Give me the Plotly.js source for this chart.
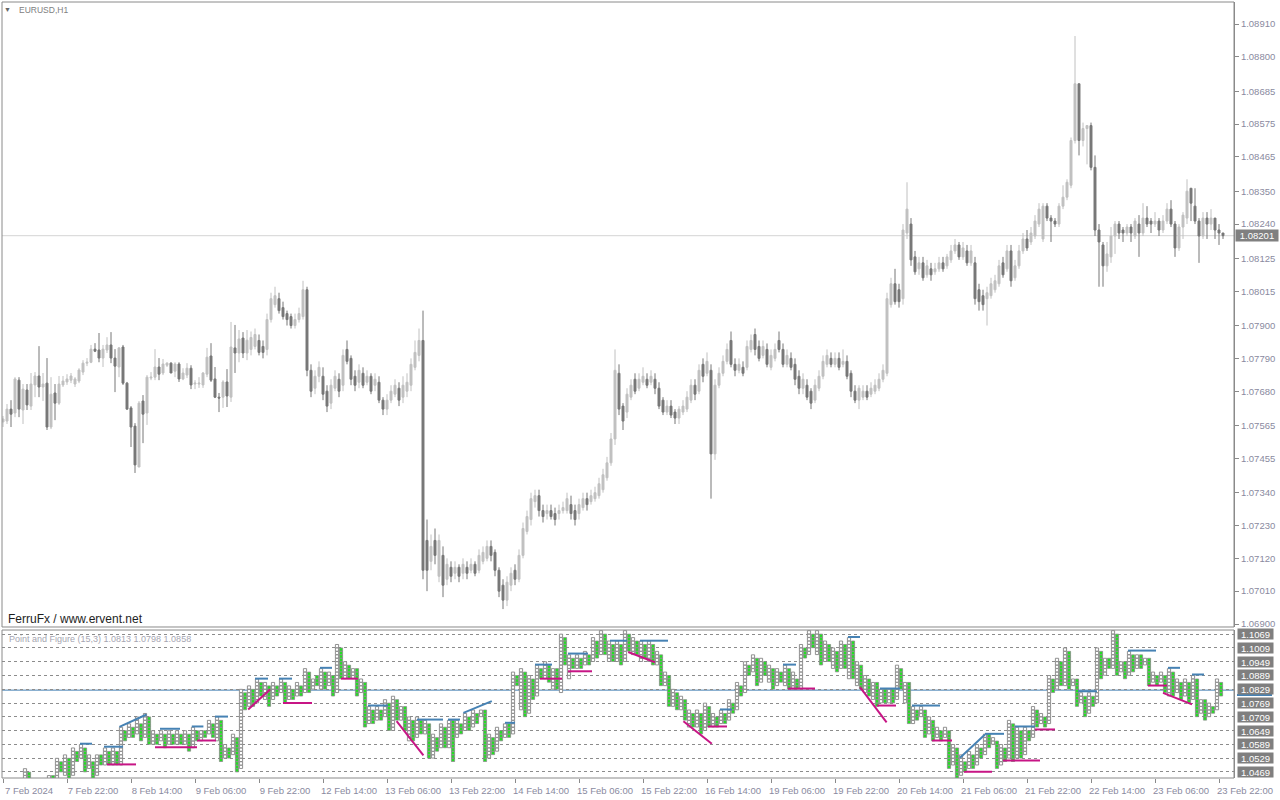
<!DOCTYPE html>
<html>
<head>
<meta charset="utf-8">
<script src="https://cdn.plot.ly/plotly-3.0.1.min.js"></script>
<style>html,body{margin:0;padding:0;background:#fff;}#chart{width:1280px;height:800px;}</style>
</head>
<body>
<div id="chart"></div>
<script>
// ---------- EURUSD H1 candles (bar 0 = 7 Feb 2024 06:00) ----------
const candleOpen = [
1.07577,1.07580,1.07620,1.07607,1.07717,1.07617,1.07684,1.07630,1.07701,1.07731,
1.07694,1.07707,1.07560,1.07674,1.07640,1.07701,1.07711,1.07717,1.07704,1.07714,
1.07744,1.07774,1.07777,1.07821,1.07818,1.07791,1.07818,1.07835,1.07791,1.07761,
1.07828,1.07707,1.07624,1.07563,1.07426,1.07647,1.07607,1.07724,1.07727,1.07761,
1.07741,1.07767,1.07774,1.07747,1.07771,1.07721,1.07734,1.07757,1.07704,1.07704,
1.07701,1.07737,1.07798,1.07721,1.07660,1.07660,1.07711,1.07660,1.07825,1.07808,
1.07858,1.07808,1.0782,1.0783,1.0785,1.0783,1.0782,1.0792,1.0797,1.0799,
1.0796,1.0794,1.0793,1.0790,1.0792,1.0793,1.0802,1.0775,1.0769,1.0773,
1.0773,1.0768,1.0764,1.0769,1.0772,1.0770,1.0782,1.0779,1.0773,1.0771,
1.0774,1.0771,1.0773,1.0770,1.0771,1.0765,1.0762,1.0765,1.0767,1.0769,
1.0766,1.0768,1.0770,1.0776,1.0780,1.0785,1.0718,1.0711,1.0718,1.0706,
1.0713,1.0705,1.0709,1.0707,1.0709,1.0707,1.0709,1.0708,1.0710,1.0708,
1.0711,1.0712,1.0716,1.0714,1.0708,1.0703,1.0698,1.0703,1.0708,1.0705,
1.0713,1.0721,1.0725,1.0731,1.0733,1.0728,1.0727,1.0728,1.0727,1.0727,
1.0728,1.0728,1.0730,1.0728,1.0727,1.0729,1.0732,1.0731,1.0732,1.0733,
1.0735,1.0739,1.0744,1.0752,1.0774,1.0763,1.0761,1.0766,1.0772,1.0769,
1.0771,1.0772,1.0771,1.0772,1.0769,1.0765,1.0761,1.0763,1.0761,1.0759,
1.0761,1.0762,1.0765,1.0770,1.0768,1.0777,1.0774,1.0775,1.0747,1.0770,
1.0774,1.0778,1.0785,1.0777,1.0775,1.0776,1.0776,1.0782,1.0787,1.0783,
1.0780,1.0782,1.0776,1.0779,1.0785,1.0782,1.0777,1.0779,1.0777,1.0773,
1.0769,1.0770,1.0768,1.0765,1.0769,1.0773,1.0777,1.0779,1.0777,1.0779,
1.0777,1.0778,1.0774,1.0768,1.0765,1.0766,1.0768,1.0767,1.0768,1.0769,
1.0772,1.0774,1.0797,1.0804,1.0802,1.0799,1.0821,1.0824,1.0813,1.0809,
1.0811,1.0807,1.0809,1.0808,1.0809,1.0811,1.0810,1.0812,1.0815,1.0817,
1.0813,1.0815,1.0811,1.0811,1.0802,1.0800,1.0799,1.0800,1.0802,1.0804,
1.0811,1.0809,1.0815,1.0806,1.0810,1.0815,1.0819,1.0818,1.0820,1.0824,
1.0819,1.0830,1.0826,1.0825,1.0824,1.0830,1.0833,1.0837,1.0852,1.0871,
1.0852,1.0856,1.0857,1.0843,1.0822,1.0817,1.0810,1.0813,1.0820,1.0824,
1.0822,1.0821,1.0823,1.0820,1.0824,1.0821,1.0826,1.0825,1.0824,1.0825,
1.0822,1.0825,1.0829,1.0824,1.0816,1.0823,1.0826,1.0836,1.0830,1.0825,
1.0820,1.0826,1.0824,1.0826,1.0822,1.0821];
const candleHigh = [
1.07597,1.07637,1.07650,1.07727,1.07727,1.07704,1.07704,1.07741,1.07744,1.07831,
1.07741,1.07791,1.07727,1.07704,1.07731,1.07731,1.07737,1.07741,1.07727,1.07757,
1.07784,1.07791,1.07835,1.07841,1.07875,1.07835,1.07861,1.07878,1.07821,1.07828,
1.07835,1.07711,1.07630,1.07573,1.07647,1.07667,1.07734,1.07744,1.07821,1.07791,
1.07788,1.07777,1.07777,1.07777,1.07777,1.07757,1.07774,1.07767,1.07717,1.07727,
1.07744,1.07825,1.07841,1.07761,1.07674,1.07717,1.07754,1.07912,1.07902,1.07885,
1.07878,1.07885,1.0788,1.0789,1.0787,1.0785,1.0794,1.0801,1.0803,1.0801,
1.0798,1.0795,1.0794,1.0794,1.0796,1.0805,1.0803,1.0777,1.0775,1.0778,
1.0776,1.0770,1.0772,1.0775,1.0774,1.0782,1.0785,1.0780,1.0775,1.0777,
1.0776,1.0775,1.0774,1.0774,1.0773,1.0766,1.0767,1.0770,1.0772,1.0771,
1.0773,1.0774,1.0779,1.0785,1.0789,1.0795,1.0725,1.0720,1.0722,1.0720,
1.0716,1.0712,1.0711,1.0711,1.0710,1.0712,1.0711,1.0712,1.0711,1.0715,
1.0716,1.0718,1.0718,1.0715,1.0709,1.0705,1.0706,1.0709,1.0710,1.0715,
1.0724,1.0728,1.0734,1.0735,1.0735,1.0730,1.0730,1.0730,1.0729,1.0730,
1.0731,1.0734,1.0733,1.0730,1.0732,1.0734,1.0734,1.0735,1.0736,1.0739,
1.0742,1.0746,1.0754,1.0782,1.0777,1.0764,1.0769,1.0772,1.0774,1.0774,
1.0776,1.0774,1.0775,1.0774,1.0771,1.0766,1.0765,1.0765,1.0762,1.0763,
1.0765,1.0768,1.0772,1.0772,1.0777,1.0779,1.0781,1.0777,1.0772,1.0776,
1.0780,1.0784,1.0788,1.0779,1.0779,1.0778,1.0785,1.0787,1.0789,1.0785,
1.0785,1.0784,1.0782,1.0784,1.0788,1.0784,1.0782,1.0781,1.0779,1.0775,
1.0774,1.0772,1.0769,1.0772,1.0775,1.0780,1.0782,1.0781,1.0781,1.0781,
1.0782,1.0780,1.0775,1.0770,1.0770,1.0770,1.0770,1.0771,1.0772,1.0774,
1.0777,1.0801,1.0806,1.0809,1.0804,1.0824,1.0838,1.0826,1.0815,1.0813,
1.0813,1.0812,1.0811,1.0811,1.0813,1.0813,1.0814,1.0817,1.0819,1.0818,
1.0818,1.0817,1.0817,1.0813,1.0804,1.0802,1.0803,1.0806,1.0807,1.0812,
1.0813,1.0817,1.0817,1.0812,1.0817,1.0821,1.0822,1.0823,1.0827,1.0831,
1.0831,1.0831,1.0827,1.0826,1.0831,1.0837,1.0839,1.0853,1.0887,1.0871,
1.0858,1.0857,1.0858,1.0847,1.0824,1.0818,1.0818,1.0823,1.0825,1.0825,
1.0823,1.0824,1.0824,1.0826,1.0827,1.0831,1.0830,1.0826,1.0828,1.0826,
1.0827,1.0831,1.0832,1.0825,1.0824,1.0828,1.0839,1.0836,1.0836,1.0826,
1.0828,1.0828,1.0829,1.0826,1.0824,1.0821];
const candleLow = [
1.07560,1.07570,1.07560,1.07593,1.07593,1.07570,1.07617,1.07617,1.07660,1.07660,
1.07647,1.07550,1.07553,1.07583,1.07634,1.07694,1.07701,1.07707,1.07694,1.07707,
1.07734,1.07764,1.07774,1.07811,1.07777,1.07761,1.07808,1.07774,1.07677,1.07727,
1.07701,1.07617,1.07493,1.07406,1.07426,1.07506,1.07567,1.07717,1.07717,1.07717,
1.07734,1.07761,1.07741,1.07727,1.07711,1.07717,1.07724,1.07687,1.07687,1.07691,
1.07691,1.07727,1.07711,1.07657,1.07610,1.07624,1.07627,1.07644,1.07741,1.07777,
1.07791,1.07784,1.0780,1.0782,1.0780,1.0779,1.0780,1.0791,1.0796,1.0794,
1.0792,1.0790,1.0789,1.0789,1.0791,1.0792,1.0773,1.0766,1.0767,1.0771,
1.0765,1.0761,1.0762,1.0768,1.0766,1.0768,1.0777,1.0770,1.0768,1.0769,
1.0769,1.0770,1.0767,1.0768,1.0764,1.0760,1.0760,1.0764,1.0766,1.0763,
1.0764,1.0766,1.0768,1.0775,1.0778,1.0705,1.0701,1.0708,1.0710,1.0704,
1.0699,1.0703,1.0704,1.0705,1.0704,1.0705,1.0705,1.0707,1.0706,1.0707,
1.0710,1.0711,1.0711,1.0706,1.0699,1.0695,1.0696,1.0701,1.0703,1.0704,
1.0712,1.0720,1.0723,1.0729,1.0726,1.0724,1.0725,1.0725,1.0723,1.0725,
1.0727,1.0727,1.0725,1.0723,1.0725,1.0728,1.0728,1.0730,1.0731,1.0732,
1.0734,1.0738,1.0743,1.0750,1.0760,1.0755,1.0759,1.0765,1.0767,1.0768,
1.0770,1.0769,1.0770,1.0767,1.0762,1.0760,1.0760,1.0759,1.0757,1.0757,
1.0760,1.0761,1.0764,1.0765,1.0767,1.0771,1.0773,1.0732,1.0745,1.0769,
1.0773,1.0777,1.0776,1.0773,1.0774,1.0773,1.0775,1.0781,1.0780,1.0778,
1.0779,1.0776,1.0775,1.0778,1.0781,1.0776,1.0776,1.0775,1.0770,1.0767,
1.0767,1.0765,1.0762,1.0764,1.0768,1.0772,1.0776,1.0776,1.0776,1.0775,
1.0776,1.0772,1.0766,1.0764,1.0762,1.0765,1.0765,1.0766,1.0767,1.0768,
1.0771,1.0773,1.0796,1.0797,1.0796,1.0797,1.0819,1.0810,1.0807,1.0807,
1.0805,1.0806,1.0805,1.0807,1.0808,1.0808,1.0809,1.0811,1.0814,1.0812,
1.0812,1.0810,1.0810,1.0797,1.0795,1.0795,1.0790,1.0799,1.0801,1.0803,
1.0806,1.0808,1.0803,1.0805,1.0809,1.0814,1.0815,1.0817,1.0819,1.0823,
1.0818,1.0825,1.0818,1.0823,1.0823,1.0829,1.0832,1.0836,1.0851,1.0847,
1.0850,1.0844,1.0842,1.0820,1.0803,1.0803,1.0808,1.0811,1.0814,1.0819,
1.0818,1.0820,1.0818,1.0819,1.0813,1.0820,1.0823,1.0821,1.0823,1.0820,
1.0821,1.0824,1.0823,1.0813,1.0815,1.0819,1.0824,1.0825,1.0824,1.0811,
1.0819,1.0819,1.0822,1.0819,1.0817,1.0819];
const candleClose = [
1.07587,1.07620,1.07603,1.07721,1.07620,1.07687,1.07634,1.07704,1.07731,1.07694,
1.07704,1.07560,1.07670,1.07640,1.07704,1.07714,1.07721,1.07731,1.07721,1.07751,
1.07774,1.07777,1.07821,1.07814,1.07791,1.07821,1.07835,1.07791,1.07764,1.07825,
1.07707,1.07620,1.07560,1.07433,1.07640,1.07603,1.07727,1.07727,1.07761,1.07737,
1.07771,1.07774,1.07741,1.07771,1.07721,1.07741,1.07757,1.07701,1.07707,1.07707,
1.07741,1.07794,1.07717,1.07660,1.07657,1.07711,1.07664,1.07828,1.07808,1.07855,
1.07808,1.07851,1.0786,1.0787,1.0781,1.0781,1.0792,1.0799,1.0800,1.0795,
1.0793,1.0792,1.0790,1.0792,1.0794,1.0802,1.0775,1.0768,1.0773,1.0776,
1.0767,1.0763,1.0770,1.0773,1.0768,1.0780,1.0778,1.0772,1.0770,1.0775,
1.0770,1.0773,1.0768,1.0772,1.0765,1.0762,1.0765,1.0768,1.0770,1.0765,
1.0770,1.0771,1.0777,1.0781,1.0785,1.0708,1.0708,1.0716,1.0713,1.0718,
1.0703,1.0710,1.0706,1.0709,1.0706,1.0710,1.0707,1.0710,1.0707,1.0713,
1.0714,1.0716,1.0713,1.0708,1.0701,1.0698,1.0704,1.0707,1.0705,1.0713,
1.0722,1.0726,1.0732,1.0733,1.0728,1.0726,1.0728,1.0726,1.0725,1.0728,
1.0729,1.0732,1.0727,1.0725,1.0730,1.0732,1.0730,1.0733,1.0734,1.0737,
1.0740,1.0744,1.0752,1.0775,1.0762,1.0758,1.0767,1.0770,1.0768,1.0772,
1.0773,1.0770,1.0773,1.0769,1.0763,1.0761,1.0763,1.0760,1.0759,1.0762,
1.0763,1.0766,1.0770,1.0767,1.0775,1.0773,1.0778,1.0747,1.0770,1.0774,
1.0778,1.0782,1.0777,1.0775,1.0777,1.0774,1.0783,1.0785,1.0782,1.0779,
1.0783,1.0777,1.0780,1.0782,1.0782,1.0777,1.0780,1.0776,1.0772,1.0769,
1.0772,1.0766,1.0764,1.0770,1.0773,1.0778,1.0780,1.0777,1.0779,1.0776,
1.0778,1.0773,1.0768,1.0765,1.0769,1.0768,1.0766,1.0769,1.0770,1.0772,
1.0775,1.0799,1.0804,1.0798,1.0798,1.0822,1.0829,1.0812,1.0808,1.0811,
1.0806,1.0810,1.0807,1.0809,1.0811,1.0809,1.0813,1.0815,1.0817,1.0813,
1.0816,1.0811,1.0815,1.0799,1.0798,1.0797,1.0801,1.0804,1.0805,1.0810,
1.0807,1.0815,1.0805,1.0810,1.0815,1.0819,1.0816,1.0821,1.0825,1.0829,
1.0830,1.0826,1.0825,1.0824,1.0830,1.0833,1.0838,1.0852,1.0871,1.0852,
1.0856,1.0857,1.0843,1.0822,1.0818,1.0810,1.0814,1.0820,1.0824,1.0821,
1.0821,1.0823,1.0821,1.0825,1.0821,1.0826,1.0824,1.0824,1.0825,1.0822,
1.0825,1.0829,1.0824,1.0816,1.0823,1.0827,1.0835,1.0831,1.0825,1.0820,
1.0826,1.0824,1.0826,1.0822,1.0821,1.08201];
const lastPrice = 1.08201;

// ---------- time axis ----------
const timeTickBars = [0,16,32,48,64,80,96,112,128,144,160,176,192,208,224,240,256,272,288,304];
const timeTickLabels = ["7 Feb 2024","7 Feb 22:00","8 Feb 14:00","9 Feb 06:00","9 Feb 22:00","12 Feb 14:00","13 Feb 06:00","13 Feb 22:00","14 Feb 14:00","15 Feb 06:00","15 Feb 22:00","16 Feb 14:00","19 Feb 06:00","19 Feb 22:00","20 Feb 14:00","21 Feb 06:00","21 Feb 22:00","22 Feb 14:00","23 Feb 06:00","23 Feb 22:00"];
const priceTicks = [1.08910,1.08800,1.08685,1.08575,1.08465,1.08350,1.08240,1.08125,1.08015,1.07900,1.07790,1.07680,1.07565,1.07455,1.07340,1.07230,1.07120,1.07010,1.06900];

// ---------- Point and Figure (15,3) ----------
const pfBoxSize = 0.0015;
const pfLevels = [1.1069,1.1009,1.0949,1.0889,1.0829,1.0769,1.0709,1.0649,1.0589,1.0529,1.0469];
const pfTitle = "Point and Figure (15,3) 1.0813 1.0798 1.0858";
const pfBar = [
5,6,11,12,13,14,15,16,17,18,
19,20,21,22,23,24,25,26,27,28,
29,30,31,32,33,34,35,36,37,38,
39,40,41,42,43,44,45,46,47,48,
49,50,51,52,53,54,55,56,57,58,
59,60,61,62,63,64,65,66,67,68,
69,70,71,72,73,74,75,76,77,78,
79,80,81,82,83,84,85,86,87,88,
89,90,91,92,93,94,95,96,97,98,
99,100,101,102,103,104,105,106,107,108,
109,110,111,112,113,114,115,116,117,118,
119,120,121,122,123,124,125,126,127,128,
129,130,131,132,133,134,135,136,137,138,
139,140,141,142,143,144,145,146,147,148,
149,150,151,152,153,154,155,156,157,158,
159,160,161,162,163,164,165,166,167,168,
169,170,171,172,173,174,175,176,177,178,
179,180,181,182,183,184,185,186,187,188,
189,190,191,192,193,194,195,196,197,198,
199,200,201,202,203,204,205,206,207,208,
209,210,211,212,213,214,215,216,217,218,
219,220,221,222,223,224,225,226,227,228,
229,230,231,232,233,234,235,236,237,238,
239,240,241,242,243,244,245,246,247,248,
249,250,251,252,253,254,255,256,257,258,
259,260,261,262,263,264,265,266,267,268,
269,270,271,272,273,274,275,276,277,278,
279,280,281,282,283,284,285,286,287,288,
289,290,291,292,293,294,295,296,297,298,
299,300,301,302,303,304];
const pfType = (
"XOXOXOXOXO"+"XOXOXOXOXO"+"XOXOXOXOXO"+"XOXOXOXOXO"+"XOXOXOXOXO"+
"XOXOXOXOXO"+"XOXOXOXOXO"+"XOXOXOXOXO"+"XOXOXOXOXO"+"XOXOXOXOXO"+
"XOXOXOXOXO"+"XOXOXOXOXO"+"XOXOXOXOXO"+"XOXOXOXOXO"+"XOXOXOXOXO"+
"XOXOXOXOXO"+"XOXOXOXOXO"+"XOXOXOXOXO"+"XOXOXOXOXO"+"XOXOXOXOXO"+
"XOXOXOXOXO"+"XOXOXOXOXO"+"XOXOXOXOXO"+"XOXOXOXOXO"+"XOXOXOXOXO"+
"XOXOXOXOXO"+"XOXOXOXOXO"+"XOXOXOXOXO"+"XOXOXOXOXO"+"XOXOXO").split("");
const pfHigh = [
1.0484,1.0469,1.0454,1.0454,1.0529,1.0514,1.0544,1.0529,1.0574,1.0559,
1.0589,1.0574,1.0544,1.0514,1.0544,1.0544,1.0574,1.0559,1.0574,1.0559,
1.0664,1.0649,1.0679,1.0664,1.0709,1.0679,1.0724,1.0709,1.0649,1.0634,
1.0649,1.0634,1.0649,1.0634,1.0649,1.0634,1.0649,1.0634,1.0664,1.0649,
1.0649,1.0649,1.0694,1.0679,1.0709,1.0694,1.0589,1.0574,1.0634,1.0619,
1.0829,1.0814,1.0844,1.0829,1.0874,1.0859,1.0859,1.0844,1.0859,1.0844,
1.0874,1.0859,1.0844,1.0829,1.0859,1.0844,1.0919,1.0904,1.0874,1.0889,
1.0919,1.0904,1.0904,1.0889,1.1024,1.1009,1.0949,1.0934,1.0919,1.0919,
1.0874,1.0859,1.0754,1.0739,1.0754,1.0739,1.0784,1.0769,1.0799,1.0784,
1.0754,1.0754,1.0709,1.0694,1.0709,1.0694,1.0694,1.0679,1.0634,1.0619,
1.0679,1.0664,1.0694,1.0694,1.0694,1.0679,1.0724,1.0709,1.0739,1.0724,
1.0739,1.0739,1.0634,1.0619,1.0664,1.0649,1.0679,1.0679,1.0904,1.0889,
1.0919,1.0904,1.0889,1.0874,1.0934,1.0919,1.0949,1.0934,1.0919,1.0919,
1.1069,1.1054,1.0979,1.0964,1.0979,1.0964,1.0994,1.0979,1.1054,1.1039,
1.1084,1.1069,1.1039,1.1024,1.1039,1.1024,1.1084,1.1069,1.1054,1.1039,
1.1039,1.1024,1.1039,1.1024,1.0994,1.0979,1.0904,1.0889,1.0829,1.0814,
1.0799,1.0784,1.0739,1.0724,1.0739,1.0724,1.0769,1.0754,1.0724,1.0709,
1.0739,1.0724,1.0784,1.0769,1.0859,1.0844,1.0949,1.0934,1.0979,1.0964,
1.0964,1.0949,1.0934,1.0919,1.0919,1.0904,1.0934,1.0919,1.0904,1.0874,
1.1024,1.1009,1.1084,1.1069,1.1084,1.1069,1.1039,1.1024,1.1009,1.0994,
1.1039,1.1024,1.1054,1.1039,1.0949,1.0934,1.0889,1.0874,1.0859,1.0859,
1.0829,1.0829,1.0829,1.0829,1.0934,1.0919,1.0859,1.0859,1.0754,1.0739,
1.0754,1.0739,1.0709,1.0694,1.0664,1.0649,1.0664,1.0649,1.0589,1.0574,
1.0544,1.0514,1.0559,1.0544,1.0589,1.0574,1.0634,1.0634,1.0619,1.0604,
1.0589,1.0574,1.0694,1.0679,1.0664,1.0649,1.0664,1.0649,1.0754,1.0739,
1.0724,1.0709,1.0889,1.0874,1.0964,1.0949,1.1009,1.0994,1.0874,1.0874,
1.0814,1.0799,1.0814,1.0799,1.1009,1.0994,1.0964,1.0964,1.1084,1.1069,
1.0949,1.0949,1.0994,1.0979,1.0979,1.0979,1.0964,1.0964,1.0904,1.0889,
1.0904,1.0889,1.0919,1.0904,1.0874,1.0859,1.0874,1.0859,1.0889,1.0874,
1.0784,1.0784,1.0769,1.0754,1.0874,1.0859];
const pfLow = [
1.0439,1.0439,1.0439,1.0439,1.0439,1.0469,1.0454,1.0439,1.0454,1.0514,
1.0529,1.0469,1.0484,1.0439,1.0454,1.0499,1.0499,1.0499,1.0499,1.0499,
1.0499,1.0604,1.0619,1.0619,1.0634,1.0604,1.0619,1.0589,1.0589,1.0589,
1.0604,1.0574,1.0589,1.0589,1.0589,1.0589,1.0589,1.0559,1.0574,1.0604,
1.0604,1.0619,1.0634,1.0619,1.0604,1.0514,1.0529,1.0529,1.0544,1.0469,
1.0484,1.0739,1.0754,1.0754,1.0769,1.0799,1.0784,1.0754,1.0784,1.0799,
1.0814,1.0769,1.0784,1.0784,1.0799,1.0799,1.0814,1.0814,1.0829,1.0844,
1.0829,1.0829,1.0844,1.0799,1.0814,1.0874,1.0874,1.0874,1.0874,1.0799,
1.0814,1.0664,1.0679,1.0679,1.0694,1.0694,1.0709,1.0649,1.0649,1.0694,
1.0694,1.0649,1.0604,1.0604,1.0619,1.0634,1.0634,1.0529,1.0529,1.0559,
1.0574,1.0574,1.0574,1.0514,1.0619,1.0634,1.0649,1.0649,1.0664,1.0679,
1.0709,1.0514,1.0529,1.0544,1.0559,1.0604,1.0619,1.0619,1.0634,1.0844,
1.0739,1.0709,1.0724,1.0784,1.0799,1.0874,1.0874,1.0859,1.0829,1.0829,
1.0814,1.0934,1.0874,1.0919,1.0919,1.0919,1.0934,1.0934,1.0949,1.0964,
1.0979,1.0979,1.0949,1.0949,1.0949,1.0934,1.0949,1.0994,1.0979,1.0979,
1.0949,1.0964,1.0949,1.0934,1.0934,1.0844,1.0844,1.0754,1.0754,1.0739,
1.0739,1.0694,1.0664,1.0664,1.0664,1.0634,1.0649,1.0664,1.0664,1.0664,
1.0679,1.0679,1.0694,1.0724,1.0739,1.0799,1.0814,1.0889,1.0904,1.0844,
1.0859,1.0889,1.0859,1.0829,1.0844,1.0859,1.0844,1.0829,1.0829,1.0829,
1.0829,1.0964,1.0979,1.1009,1.0979,1.0934,1.0949,1.0949,1.0919,1.0904,
1.0919,1.0919,1.0874,1.0874,1.0844,1.0829,1.0814,1.0799,1.0784,1.0754,
1.0769,1.0769,1.0769,1.0769,1.0784,1.0829,1.0769,1.0679,1.0679,1.0694,
1.0709,1.0619,1.0634,1.0604,1.0619,1.0604,1.0619,1.0484,1.0499,1.0439,
1.0454,1.0469,1.0484,1.0484,1.0499,1.0529,1.0544,1.0574,1.0589,1.0484,
1.0499,1.0514,1.0529,1.0514,1.0529,1.0529,1.0544,1.0604,1.0619,1.0664,
1.0679,1.0664,1.0679,1.0814,1.0829,1.0844,1.0844,1.0829,1.0844,1.0754,
1.0769,1.0709,1.0724,1.0754,1.0769,1.0874,1.0889,1.0919,1.0919,1.0889,
1.0904,1.0874,1.0889,1.0904,1.0919,1.0919,1.0934,1.0844,1.0859,1.0844,
1.0859,1.0814,1.0799,1.0799,1.0814,1.0784,1.0799,1.0769,1.0784,1.0709,
1.0724,1.0694,1.0709,1.0724,1.0739,1.0799];
const pfPriceLine = 1.0825;
const pfPriceMark = 1.0804;
// trend lines: [bar0, price0, bar1, price1]
const pfResistance = [
[18.75,1.0592,21.75,1.0592],[24.75,1.0579,29.5,1.0579],[28.6,1.0665,35.4,1.0719],
[38.75,1.0657,43.75,1.0657],[46.7,1.0667,49.6,1.0667],[52.5,1.0710,55.75,1.0710],
[62.5,1.0875,65.75,1.0875],[68.5,1.0875,71.75,1.0875],[78.75,1.0922,81.75,1.0922],
[90.75,1.0758,95.75,1.0758],[103,1.0697,109.5,1.0697],[110.75,1.0697,113.75,1.0697],
[114.6,1.0726,121.7,1.0777],[125,1.0683,127.5,1.0683],[132.5,1.0936,136.75,1.0936],
[140.75,1.0984,145.75,1.0984],[151.25,1.1040,155.5,1.1040],[158.75,1.1040,165.75,1.1040],
[178.75,1.0741,181.75,1.0741],[194.5,1.0936,197.75,1.0936],[210.75,1.1056,213.75,1.1056],
[218.75,1.0832,223.75,1.0832],[226.75,1.0758,233.75,1.0758],[238.75,1.0531,245,1.0632],
[245,1.0635,249.75,1.0635],[252.5,1.0667,257.5,1.0667],[268.25,1.0820,273,1.0820],
[280.75,1.0997,287.75,1.0997],[290.75,1.0922,293.75,1.0922],[296.75,1.0893,299.75,1.0893]];
const pfSupport = [
[25.5,1.0502,32.75,1.0502],[37.5,1.0577,48,1.0577],[48,1.0606,52.75,1.0606],
[60.8,1.0741,66.25,1.0828],[69.5,1.0769,76.75,1.0769],[84,1.0875,88.25,1.0875],
[97.9,1.0690,104.6,1.0541],[133.75,1.0875,139.25,1.0875],[140.75,1.0907,146.75,1.0907],
[155.8,1.0991,162.5,1.0946],[169.6,1.0690,176.7,1.0592],[175.75,1.0667,180.5,1.0667],
[195.75,1.0832,202.5,1.0832],[213.75,1.0838,220.4,1.0685],[218,1.0758,222.75,1.0758],
[231.75,1.0606,236.75,1.0606],[239.75,1.0470,246.75,1.0470],[249.5,1.0519,258.75,1.0519],
[257.5,1.0654,262.5,1.0654],[285.75,1.0845,290.5,1.0845],[289.5,1.0813,296.75,1.0763]];

// ---------- build traces ----------
const bars = candleOpen.map((_, i) => i);
const candles = {
  type: 'candlestick', x: bars, open: candleOpen, high: candleHigh, low: candleLow, close: candleClose,
  xaxis: 'x', yaxis: 'y', whiskerwidth: 0, hoverinfo: 'skip',
  increasing: {line: {color: '#c0c0c0', width: 1}, fillcolor: '#c0c0c0'},
  decreasing: {line: {color: '#777777', width: 1}, fillcolor: '#777777'}
};
const xbx = [], xby = [], obx = [], oby = [];
pfBar.forEach((b, j) => {
  const n = Math.round((pfHigh[j] - pfLow[j]) / pfBoxSize);
  for (let k = 0; k < n; k++) {
    const y = pfLow[j] + pfBoxSize * (k + 0.5);
    if (pfType[j] === 'X') { xbx.push(b); xby.push(y); } else { obx.push(b); oby.push(y); }
  }
});
const boxX = {type: 'scatter', mode: 'markers', x: xbx, y: xby, xaxis: 'x2', yaxis: 'y2', hoverinfo: 'skip',
  marker: {symbol: 'square', size: 3.2, color: '#ffffff', line: {color: '#858585', width: 0.9}}};
const boxO = {type: 'scatter', mode: 'markers', x: obx, y: oby, xaxis: 'x2', yaxis: 'y2', hoverinfo: 'skip',
  marker: {symbol: 'square', size: 3.2, color: '#22e022', line: {color: '#8a8a8a', width: 0.8}}};
function segTrace(segs, color) {
  const x = [], y = [];
  segs.forEach(s => { x.push(s[0], s[2], null); y.push(s[1], s[3], null); });
  return {type: 'scatter', mode: 'lines', x, y, xaxis: 'x2', yaxis: 'y2', hoverinfo: 'skip',
    line: {color, width: 2}, connectgaps: false};
}
const resTrace = segTrace(pfResistance, '#4682b4');
const supTrace = segTrace(pfSupport, '#c71585');

// ---------- layout ----------
const W = 1232, H = 776;
const px = v => (v - 2) / W;          // page x -> paper
const py = v => (778 - v) / H;        // page y -> paper
const axisText = '#8a8aa0';
const annotations = [
  {text: '▼', xref: 'paper', yref: 'paper', x: px(7.5), y: py(10), xanchor: 'center', yanchor: 'middle', showarrow: false, font: {size: 7, color: '#666666'}},
  {text: 'EURUSD,H1', xref: 'paper', yref: 'paper', x: px(17), y: py(10), xanchor: 'left', yanchor: 'middle', showarrow: false, font: {size: 8.5, color: '#808080'}},
  {text: 'FerruFx / www.ervent.net', xref: 'paper', yref: 'paper', x: px(5.5), y: py(619), xanchor: 'left', yanchor: 'middle', showarrow: false, font: {size: 12, color: '#1e1e1e'}},
  {text: pfTitle, xref: 'paper', yref: 'paper', x: px(6.5), y: py(639), xanchor: 'left', yanchor: 'middle', showarrow: false, font: {size: 9, color: '#a6a6b2'}},
  {text: lastPrice.toFixed(5), xref: 'paper', yref: 'y', x: px(1235), y: lastPrice, xanchor: 'left', yanchor: 'middle', showarrow: false,
   width: 42, height: 11, bgcolor: '#808080', borderpad: 0, font: {size: 9.5, color: '#ffffff'}}
];
pfLevels.forEach(v => annotations.push({text: v.toFixed(4), xref: 'paper', yref: 'y2', x: px(1236.5), y: v, xanchor: 'left', yanchor: 'middle',
  showarrow: false, width: 35, height: 10, bgcolor: '#7f7f7f', borderpad: 0, font: {size: 9.5, color: '#ffffff'}}));

const layout = {
  width: 1280, height: 800, margin: {l: 2, r: 46, t: 2, b: 22, pad: 0},
  paper_bgcolor: '#ffffff', plot_bgcolor: '#ffffff', showlegend: false, hovermode: false, dragmode: false,
  font: {family: 'Liberation Sans, Arial, sans-serif', size: 9.5, color: axisText},
  xaxis: {domain: [0, 1], anchor: 'y2', range: [-0.25, 307.75], tickmode: 'array', tickvals: timeTickBars, ticktext: timeTickLabels,
    ticks: 'outside', ticklen: 4, tickcolor: '#8a8a8a', ticklabelshift: 26, showgrid: false, zeroline: false, showline: false,
    rangeslider: {visible: false}, fixedrange: true, tickfont: {size: 9.5, color: axisText}},
  xaxis2: {domain: [0, 1], anchor: 'y2', overlaying: 'x', range: [-0.75, 307.25], visible: false, fixedrange: true},
  yaxis: {domain: [0.1946, 1], anchor: 'x', side: 'right', range: [1.0689, 1.08984], tickmode: 'array', tickvals: priceTicks,
    tickformat: '.5f', ticks: 'outside', ticklen: 4, tickcolor: '#8a8a8a', showgrid: false, zeroline: false,
    showline: true, linecolor: '#8a8a8a', linewidth: 1, fixedrange: true, tickfont: {size: 9.5, color: axisText}},
  yaxis2: {domain: [0, 0.1907], anchor: 'x', side: 'right', range: [1.04429, 1.10864], tickmode: 'array', tickvals: pfLevels,
    showticklabels: false, ticks: '', showgrid: true, gridcolor: '#8c8c8c', griddash: '3px,3px', gridwidth: 1,
    zeroline: false, showline: true, linecolor: '#8a8a8a', linewidth: 1, fixedrange: true},
  shapes: [
    {type: 'line', xref: 'paper', yref: 'y', x0: 0, x1: 1, y0: lastPrice, y1: lastPrice, line: {color: '#d4d4d4', width: 1}, layer: 'below'},
    {type: 'line', xref: 'paper', yref: 'y2', x0: 0, x1: 1, y0: pfPriceLine, y1: pfPriceLine, line: {color: '#4682b4', width: 1}, layer: 'below'},
    {type: 'line', xref: 'paper', yref: 'y2', x0: px(1237), x1: px(1272), y0: pfPriceMark, y1: pfPriceMark, line: {color: '#4682b4', width: 2}},
    {type: 'rect', xref: 'paper', yref: 'paper', x0: 0, x1: 1, y0: 0.1946, y1: 1, line: {color: '#8a8a8a', width: 1}, fillcolor: 'rgba(0,0,0,0)'},
    {type: 'rect', xref: 'paper', yref: 'paper', x0: 0, x1: 1, y0: 0, y1: 0.1907, line: {color: '#8a8a8a', width: 1}, fillcolor: 'rgba(0,0,0,0)'}
  ],
  annotations
};
Plotly.newPlot('chart', [candles, boxX, boxO, resTrace, supTrace], layout, {staticPlot: true, displayModeBar: false});
</script>
</body>
</html>
